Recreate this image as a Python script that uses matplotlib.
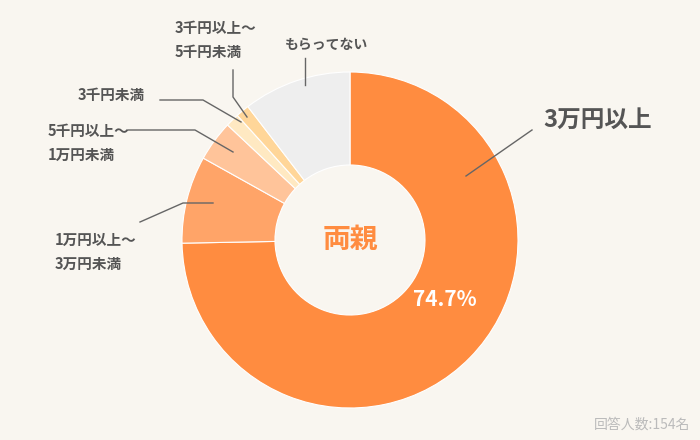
import matplotlib
matplotlib.use("Agg")
import matplotlib.pyplot as plt

plt.rcParams['font.family'] = ['Noto Sans CJK JP', 'DejaVu Sans']

categories = ["3万円以上", "1万円以上〜3万円未満", "5千円以上〜1万円未満", "3千円未満", "3千円以上〜5千円未満", "もらってない"]
values = [74.7, 8.4, 3.9, 1.3, 1.3, 10.4]
colors = ["#FF8C40", "#FFA468", "#FFC49A", "#FFE9C2", "#FFD699", "#EEEEEE"]

H = 440
fig = plt.figure(figsize=(7, 4.4), dpi=100, facecolor="#F9F6F0")
ax = fig.add_axes([0, 0, 1, 1])
ax.set_xlim(0, 700); ax.set_ylim(0, H); ax.set_aspect('equal'); ax.axis('off')

cx, cy = 350, H - 240
ax.pie(values, colors=colors, startangle=90, counterclock=False, center=(cx, cy),
       radius=168, wedgeprops=dict(width=93, edgecolor='white', linewidth=0.8), frame=True)
ax.set_xlim(0, 700); ax.set_ylim(0, H); ax.axis('off')

tc = "#555555"
def line(pts):
    ax.plot([p[0] for p in pts], [H - p[1] for p in pts], color="#666666", lw=1)
def txt(x, y, s, size=11, **kw):
    kw.setdefault('color', tc)
    ax.text(x, H - y, s, fontsize=size, fontweight='bold', **kw)

txt(350, 240, "両親", size=20, color="#FF8C40", ha='center', va='center')
txt(445, 300, "74.7%", size=15, color="white", ha='center', va='center')
txt(598, 120, "3万円以上", size=17, ha='center', va='center')
line([(532, 130), (466, 176)])

txt(55, 252, "1万円以上〜\n3万円未満", size=10.5, ha='left', va='center', linespacing=1.6)
line([(140, 222), (183, 203), (213, 203)])
txt(48, 143, "5千円以上〜\n1万円未満", size=10.5, ha='left', va='center', linespacing=1.6)
line([(128, 130), (195, 130), (233, 152)])
txt(78, 95, "3千円未満", size=10.5, ha='left', va='center')
line([(160, 100), (203, 100), (241, 122)])
txt(175, 40, "3千円以上〜\n5千円未満", size=10.5, ha='left', va='center', linespacing=1.6)
line([(233, 70), (233, 97), (247, 117)])
txt(285, 45, "もらってない", size=10, ha='left', va='center')
line([(305, 58), (305, 85)])

ax.text(690, H - 425, "回答人数:154名", fontsize=10, color="#BBBBBB", ha='right', va='center')

fig.savefig("out.png", dpi=100, facecolor=fig.get_facecolor())
